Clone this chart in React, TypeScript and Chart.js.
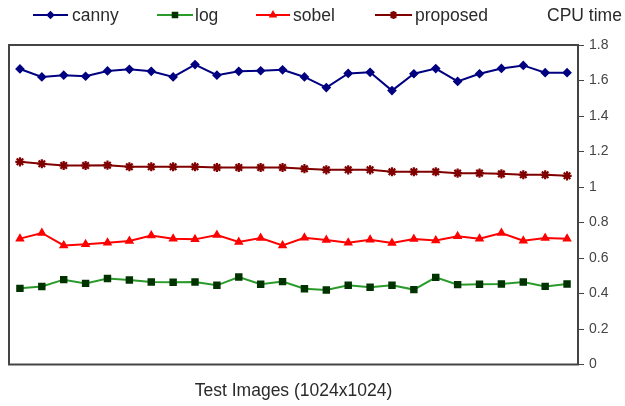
import React, { useEffect, useRef } from "react";
import { Chart, registerables } from "chart.js";
import { drawPoint } from "chart.js/helpers";

Chart.register(...registerables);

const categories = Array.from({ length: 26 }, (_, i) => String(i + 1));
const canny = [1.665, 1.62, 1.63, 1.624, 1.654, 1.663, 1.652, 1.62, 1.69, 1.63, 1.652, 1.655, 1.66, 1.62, 1.56, 1.64, 1.646, 1.543, 1.638, 1.667, 1.595, 1.638, 1.668, 1.685, 1.644, 1.644];
const logv = [0.429, 0.439, 0.478, 0.457, 0.484, 0.476, 0.465, 0.463, 0.465, 0.446, 0.493, 0.452, 0.467, 0.427, 0.42, 0.446, 0.435, 0.446, 0.422, 0.491, 0.45, 0.452, 0.454, 0.465, 0.44, 0.454];
const sobel = [0.709, 0.741, 0.671, 0.677, 0.686, 0.696, 0.727, 0.709, 0.705, 0.729, 0.69, 0.712, 0.671, 0.714, 0.701, 0.686, 0.703, 0.684, 0.707, 0.699, 0.722, 0.709, 0.741, 0.697, 0.712, 0.709];
const proposed = [1.142, 1.131, 1.121, 1.121, 1.123, 1.114, 1.114, 1.114, 1.114, 1.11, 1.11, 1.11, 1.11, 1.103, 1.097, 1.097, 1.097, 1.086, 1.086, 1.086, 1.078, 1.078, 1.074, 1.069, 1.069, 1.063];

const seriesNames = ["canny", "log", "sobel", "proposed"];
const yTitle = "CPU time";
const xTitle = "Test Images (1024x1024)";

const FONT = '"Liberation Sans", Arial, sans-serif';

const legendPos = [
  { x0: 33, x1: 68, tx: 72 },
  { x0: 157, x1: 193, tx: 195 },
  { x0: 256, x1: 290, tx: 293 },
  { x0: 375, x1: 412, tx: 415 },
];

const framePlugin = {
  id: "frame",
  afterDatasetsDraw(chart: any) {
    const { ctx, chartArea: a } = chart;
    ctx.save();
    ctx.strokeStyle = "#444";
    ctx.lineWidth = 2;
    ctx.strokeRect(a.left, a.top, a.right - a.left, a.bottom - a.top);
    ctx.restore();
  },
  afterDraw(chart: any) {
    const { ctx } = chart;
    ctx.save();
    const y = 15;
    chart.data.datasets.forEach((ds: any, i: number) => {
      const p = legendPos[i];
      ctx.strokeStyle = ds.borderColor;
      ctx.lineWidth = 2;
      ctx.beginPath();
      ctx.moveTo(p.x0, y);
      ctx.lineTo(p.x1, y);
      ctx.stroke();
      ctx.fillStyle = ds.pointBackgroundColor;
      ctx.strokeStyle = ds.pointBorderColor;
      ctx.lineWidth = ds.pointBorderWidth;
      drawPoint(ctx, { pointStyle: ds.pointStyle, radius: ds.pointRadius * 0.85, borderWidth: ds.pointBorderWidth, rotation: 0 }, (p.x0 + p.x1) / 2, y);
      ctx.fillStyle = "#2a2a2a";
      ctx.font = `17.5px ${FONT}`;
      ctx.textBaseline = "middle";
      ctx.textAlign = "left";
      ctx.fillText(ds.label, p.tx, y + 1);
    });
    ctx.fillStyle = "#2a2a2a";
    ctx.font = `17.5px ${FONT}`;
    ctx.textBaseline = "middle";
    ctx.fillText(yTitle, 547, y + 1);
    ctx.restore();
  },
};

export default function App() {
  const ref = useRef<HTMLCanvasElement>(null);
  useEffect(() => {
    if (!ref.current) return;
    const mk = (label: string, data: number[], line: string, fill: string, style: string, r: number, bw: number) => ({
      label,
      data,
      borderColor: line,
      backgroundColor: line,
      borderWidth: 2,
      pointStyle: style,
      pointRadius: r,
      pointBackgroundColor: fill,
      pointBorderColor: fill,
      pointBorderWidth: bw,
      tension: 0,
    });
    const chart = new Chart(ref.current, {
      type: "line",
      data: {
        labels: categories,
        datasets: [
          mk(seriesNames[0], canny, "#000080", "#000080", "rectRot", 3.8, 1.5),
          mk(seriesNames[1], logv, "#2a9a2a", "#003300", "rect", 4.2, 1.5),
          mk(seriesNames[2], sobel, "#ff0000", "#ff0000", "triangle", 4, 1.5),
          mk(seriesNames[3], proposed, "#800000", "#800000", "star", 4.6, 2.2),
        ] as any,
      },
      options: {
        animation: false,
        responsive: true,
        maintainAspectRatio: false,
        layout: { padding: { left: 9, top: 45, right: 0, bottom: 0 } },
        plugins: { legend: { display: false }, tooltip: { enabled: false } },
        scales: {
          x: {
            type: "category",
            offset: true,
            grid: { display: false },
            border: { display: false },
            ticks: { display: false },
            title: {
              display: true,
              text: xTitle,
              color: "#2a2a2a",
              font: { family: FONT, size: 17.5 },
              padding: { top: 0, bottom: 4 },
            },
            afterFit: (s: any) => {
              s.height = 41.5;
            },
          },
          y: {
            position: "right",
            min: 0,
            max: 1.8,
            grid: { drawOnChartArea: false, drawTicks: true, tickLength: 6, color: "#444" },
            border: { display: true, color: "#444", width: 2 },
            ticks: {
              stepSize: 0.2,
              padding: 5,
              color: "#444",
              font: { family: FONT, size: 14 },
              callback: (v: any) => String(Number(Number(v).toFixed(1))),
            },
            afterFit: (s: any) => {
              s.width = 47;
            },
          },
        },
      },
      plugins: [framePlugin],
    });
    return () => chart.destroy();
  }, []);
  return (
    <div style={{ position: "fixed", left: 0, top: 0, width: 625, height: 406, background: "#fff" }}>
      <canvas ref={ref} />
    </div>
  );
}
